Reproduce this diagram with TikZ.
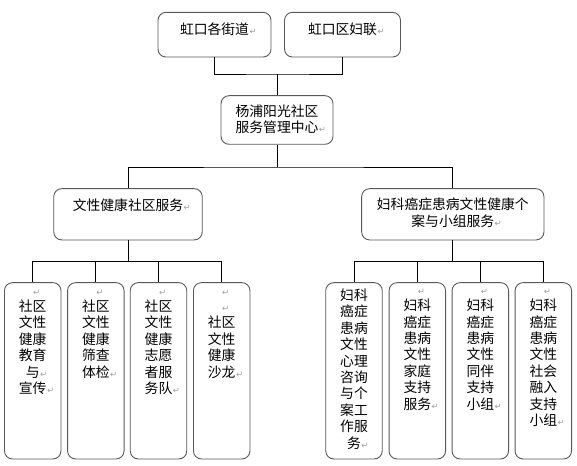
\documentclass[tikz,border=0pt]{standalone}
\usepackage{fontspec}
\setmainfont{Noto Sans CJK SC}
\newfontfamily\markfont{DejaVu Sans}
\newcommand\pmk{\rlap{\hspace{0.5pt}{\markfont\color{gray!75}\fontsize{8.5}{8.5}\selectfont ↵}}}

\begin{document}
\begin{tikzpicture}[x=1pt, y=-1pt,
  box/.style    ={draw=black!65, line width=0.9pt, rounded corners=8pt},
  hdbox/.style  ={box, minimum width=113pt, minimum height=44.7pt},
  midbox/.style ={box, minimum height=51.3pt},
  leafbox/.style={box, minimum width=56.5pt, minimum height=176.3pt},
  txt/.style    ={align=center, inner sep=0pt, anchor=north,
                  font=\fontsize{13.8}{16.4}\selectfont,
                  execute at begin node={\rule{0pt}{11pt}}},
  link/.style   ={draw, line width=0.8pt},
]
\useasboundingbox (0,0) rectangle (577,465);

%% ---- Boxes ----
\node[hdbox] (jd) at (214.5, 34.7) {};
\node[hdbox, minimum width=116pt] (fl) at (342.5, 34.7) {};
\node[box, minimum width=112pt, minimum height=48.6pt] (zx) at (277, 120) {};
\node[midbox, minimum width=148.5pt] (ml) at (128, 214.3) {};
\node[midbox, minimum width=182.3pt] (mr) at (452.8, 214.3) {};

\node[leafbox] (l1) at ( 32.7, 370.8) {};
\node[leafbox] (l2) at ( 95.8, 370.8) {};
\node[leafbox] (l3) at (158.5, 370.8) {};
\node[leafbox] (l4) at (221.7, 370.8) {};
\node[leafbox] (r1) at (354.0, 370.8) {};
\node[leafbox] (r2) at (417.3, 370.8) {};
\node[leafbox] (r3) at (480.3, 370.8) {};
\node[leafbox] (r4) at (543.3, 370.8) {};

%% ---- Texts ----
\node[txt] (jd-t) at ([yshift=-10.8pt]jd.north) {虹口各街道\pmk};
\node[txt] (fl-t) at ([yshift=-10.8pt]fl.north) {虹口区妇联\pmk};
\node[txt] (zx-t) at ([yshift=-9.2pt]zx.north) {杨浦阳光社区\\服务管理中心\pmk};
\node[txt] (ml-t) at ([yshift=-10.4pt]ml.north) {文性健康社区服务\pmk};
\node[txt] (mr-t) at ([yshift=-9.5pt]mr.north) {妇科癌症患病文性健康个\\案与小组服务\pmk};

\node[txt] (l1-t) at ([yshift=-7.3pt]l1.north) {\pmk\\社区\\文性\\健康\\教育\\与\pmk\\宣传\pmk};
\node[txt] (l2-t) at ([yshift=-7.3pt]l2.north) {\pmk\\社区\\文性\\健康\\筛查\\体检\pmk};
\node[txt] (l3-t) at ([yshift=-7.3pt]l3.north) {\pmk\\社区\\文性\\健康\\志愿\\者服\\务队\pmk};
\node[txt] (l4-t) at ([yshift=-7.3pt]l4.north) {\pmk\\\pmk\\社区\\文性\\健康\\沙龙\pmk};
\node[txt] (r1-t) at ([yshift=-6.5pt]r1.north) {妇科\\癌症\\患病\\文性\\心理\\咨询\\与个\\案工\\作服\\务\pmk};
\node[txt] (r2-t) at ([yshift=-6.5pt]r2.north) {\pmk\\妇科\\癌症\\患病\\文性\\家庭\\支持\\服务\pmk};
\node[txt] (r3-t) at ([yshift=-6.5pt]r3.north) {\pmk\\妇科\\癌症\\患病\\文性\\同伴\\支持\\小组\pmk};
\node[txt] (r4-t) at ([yshift=-6.5pt]r4.north) {\pmk\\妇科\\癌症\\患病\\文性\\社会\\融入\\支持\\小组\pmk};

%% ---- Top -> centre ----
\coordinate (j1) at (277, 74);
\draw[link] (jd.south) |- (j1) -| (fl.south);
\draw[link] (j1) -- (zx.north);

%% ---- Centre -> two services ----
\coordinate (j2) at (277, 167);
\draw[link] (zx.south) -- (j2);
\draw[link] (ml.north) |- (j2) -| (mr.north);

%% ---- Services -> groups ----
\path (ml.south) ++(0,21) coordinate (j3);
\path (mr.south) ++(0,21) coordinate (j4);
\draw[link] (ml.south) -- (j3);
\draw[link] (l1.north) |- (j3) -| (l4.north);
\draw[link] (l2.north) -- (l2.north |- j3);
\draw[link] (l3.north) -- (l3.north |- j3);
\draw[link] (mr.south) -- (j4);
\draw[link] (r1.north) |- (j4) -| (r4.north);
\draw[link] (r2.north) -- (r2.north |- j4);
\draw[link] (r3.north) -- (r3.north |- j4);

\end{tikzpicture}
\end{document}
